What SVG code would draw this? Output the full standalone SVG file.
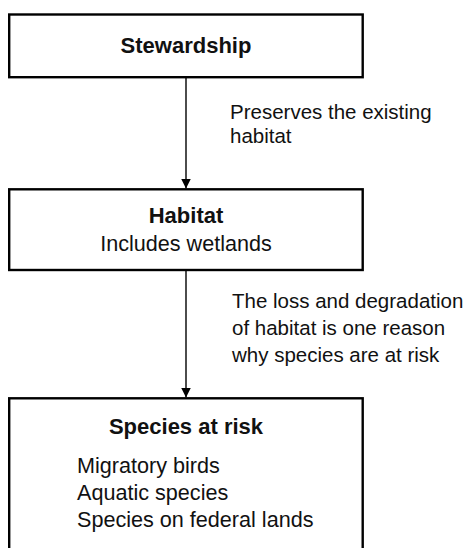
<svg xmlns="http://www.w3.org/2000/svg" width="464" height="548" viewBox="0 0 464 548">
  <style>
    .box { fill: #ffffff; stroke: #000000; stroke-width: 2.4; }
    .title { font-family: "Liberation Sans", Arial, sans-serif; font-weight: bold; font-size: 22px; fill: #111111; }
    .txt { font-family: "Liberation Sans", Arial, sans-serif; font-size: 20.5px; fill: #111111; }
    .body { font-family: "Liberation Sans", Arial, sans-serif; font-size: 21.6px; fill: #111111; }
    .edge { stroke: #000000; stroke-width: 1.4; fill: none; }
  </style>
  <defs>
    <marker id="arrow" markerWidth="10" markerHeight="14" refX="10" refY="7" orient="auto" markerUnits="userSpaceOnUse">
      <path d="M0,2 L10,7 L0,12 Z" fill="#000000"/>
    </marker>
  </defs>
  <rect x="0" y="0" width="464" height="548" fill="#ffffff"/>
  <g id="connectors">
    <line class="edge" x1="186" y1="78" x2="186" y2="188.5" marker-end="url(#arrow)"/>
    <line class="edge" x1="186" y1="271" x2="186" y2="397.5" marker-end="url(#arrow)"/>
    <text class="txt" x="230" y="119">Preserves the existing</text>
    <text class="txt" x="230" y="143">habitat</text>
    <text class="txt" x="232" y="308">The loss and degradation</text>
    <text class="txt" x="232" y="335">of habitat is one reason</text>
    <text class="txt" x="232" y="362">why species are at risk</text>
  </g>
  <g id="stewardship">
    <rect class="box" x="9.2" y="14.5" width="353.5" height="62.7"/>
    <text class="title" x="186" y="53" text-anchor="middle">Stewardship</text>
  </g>
  <g id="habitat">
    <rect class="box" x="9.2" y="189.3" width="353.5" height="80.7"/>
    <text class="title" x="186" y="223" text-anchor="middle">Habitat</text>
    <text class="body" x="186" y="251" text-anchor="middle">Includes wetlands</text>
  </g>
  <g id="species">
    <rect class="box" x="9.2" y="398.3" width="353.5" height="170"/>
    <text class="title" x="186" y="434" text-anchor="middle">Species at risk</text>
    <text class="body" x="77" y="473">Migratory birds</text>
    <text class="body" x="77" y="500">Aquatic species</text>
    <text class="body" x="77" y="527">Species on federal lands</text>
  </g>
</svg>
